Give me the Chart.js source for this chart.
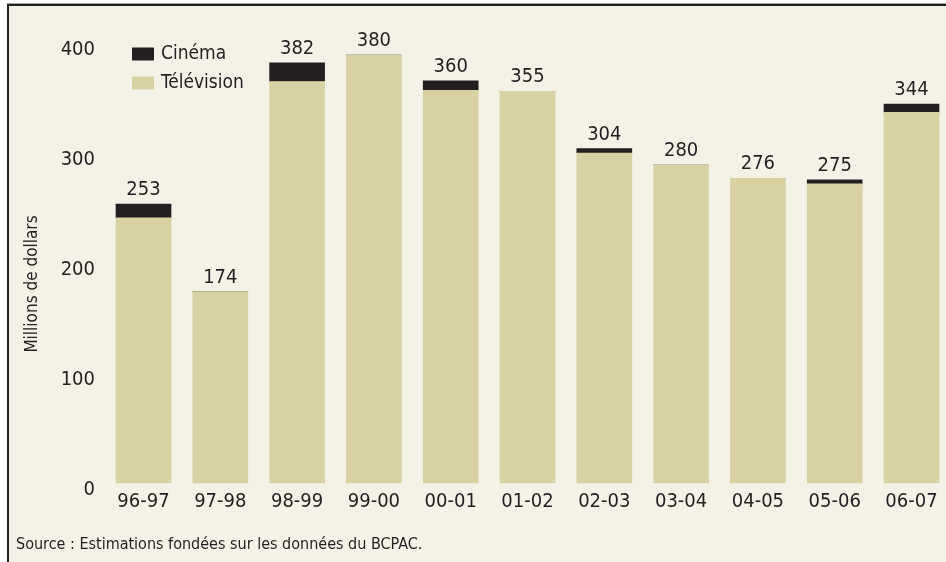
<!DOCTYPE html>
<html>
<head>
<meta charset="utf-8">
<script src="https://cdn.jsdelivr.net/npm/chart.js@4"></script>
<style>
  html, body { margin: 0; padding: 0; background: #fff; }
  #frame {
    position: absolute; left: 7px; top: 4px; width: 939px; height: 558px;
    background: #f4f2e6;
    border-top: 2px solid #231f20; border-left: 2px solid #231f20;
    box-shadow: 0 -1px 0 #a8a8a8;
    box-sizing: border-box;
  }
  #chart { position: absolute; left: 0; top: 0; }
  #source {
    position: absolute; left: 16px; top: 534px;
    font: 16px 'Liberation Sans Narrow', 'Arial Narrow', 'DejaVu Sans Condensed', sans-serif;
    color: #231f20;
  }
</style>
</head>
<body>
<div id="frame"></div>
<canvas id="chart" width="946" height="562"></canvas>
<div id="source">Source : Estimations fondées sur les données du BCPAC.</div>
<script>
const FONT = "'Liberation Sans Narrow', 'Arial Narrow', 'DejaVu Sans Condensed', sans-serif";
const INK = '#231f20';

// categories and values (millions de dollars)
const years = ['96-97', '97-98', '98-99', '99-00', '00-01', '01-02', '02-03', '03-04', '04-05', '05-06', '06-07'];
const television = [241, 174, 365, 389, 357, 356, 300, 289, 277, 272, 337];
const cinema = [12.5, 0, 17, 0, 8.5, 0, 4, 0, 0, 3.5, 7.5];
// totals printed above each bar
const totalLabels = ['253', '174', '382', '380', '360', '355', '304', '280', '276', '275', '344'];
const yTicks = [0, 100, 200, 300, 400];

/* ── totals, legend and axis title drawn on top ─────────────── */
const extras = {
  id: 'extras',
  afterDatasetsDraw(chart) {
    const ctx = chart.ctx;
    const top = chart.getDatasetMeta(chart.data.datasets.length - 1);
    ctx.save();
    ctx.fillStyle = INK;
    ctx.font = '20px ' + FONT;
    ctx.textAlign = 'center';
    ctx.textBaseline = 'alphabetic';
    top.data.forEach((bar, i) => {
      ctx.fillText(totalLabels[i], bar.x, bar.y - 9);
    });

    // legend, top dataset first
    const ds = chart.data.datasets.slice().reverse();
    ctx.font = '19px ' + FONT;
    ctx.textAlign = 'left';
    ctx.textBaseline = 'middle';
    ds.forEach((d, i) => {
      const y = 54 + i * 29;
      ctx.fillStyle = d.backgroundColor;
      ctx.fillRect(132, y - 6.5, 22, 13);
      ctx.fillStyle = INK;
      ctx.fillText(d.label, 161, y);
    });

    // y axis title
    ctx.translate(33, 284);
    ctx.rotate(-Math.PI / 2);
    ctx.textAlign = 'center';
    ctx.font = '17px ' + FONT;
    ctx.fillText('Millions de dollars', 0, 0);
    ctx.restore();
  }
};

new Chart(document.getElementById('chart').getContext('2d'), {
  type: 'bar',
  data: {
    labels: years,
    datasets: [
      { label: 'Télévision', data: television, backgroundColor: '#d8d2a3', barThickness: 55, clip: false },
      { label: 'Cinéma', data: cinema, backgroundColor: INK, barThickness: 55, clip: false }
    ]
  },
  options: {
    responsive: false,
    animation: false,
    layout: { padding: { top: 43, right: 34.5, bottom: 0, left: 0 } },
    plugins: { legend: { display: false }, tooltip: { enabled: false } },
    scales: {
      x: {
        stacked: true,
        offset: false,
        grid: { display: false, drawTicks: false },
        border: { display: false },
        ticks: { color: INK, font: { family: FONT, size: 20 }, padding: 7, maxRotation: 0, autoSkip: false },
        afterFit: s => { s.height = 79; s.paddingLeft = 0; s.paddingRight = 0; }
      },
      y: {
        stacked: true,
        min: 0,
        max: 400,
        grid: { display: false, drawTicks: false },
        border: { display: false },
        afterBuildTicks: s => { s.ticks = yTicks.map(v => ({ value: v })); },
        ticks: { color: INK, font: { family: FONT, size: 20 }, padding: 48.5, labelOffset: 7 },
        afterFit: s => { s.width = 143.5; s.paddingTop = 0; s.paddingBottom = 0; }
      }
    }
  },
  plugins: [extras]
});
</script>
</body>
</html>
